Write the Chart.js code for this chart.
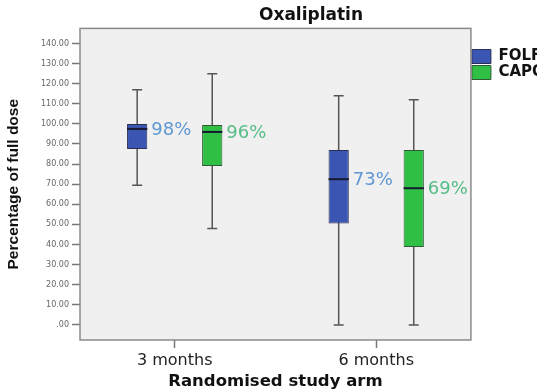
<!DOCTYPE html>
<html>
<head>
<meta charset="utf-8">
<script src="https://cdn.jsdelivr.net/npm/chart.js@4/dist/chart.umd.min.js"></script>
<style>
  body { margin: 0; background: #fff; }
  #wrap { width: 537px; height: 392px; overflow: hidden; }
</style>
</head>
<body>
<div id="wrap"><canvas id="chart" width="622" height="392"></canvas></div>
<script>
// values
const categories = ['3 months', '6 months'];
const seriesNames = ['FOLFOX', 'CAPOX'];
const yTicks = [0, 10, 20, 30, 40, 50, 60, 70, 80, 90, 100, 110, 120, 130, 140];

const folfoxMin = [69.5, 0];
const folfoxQ1 = [87.5, 50.5];
const folfoxMedian = [97.5, 72.5];
const folfoxQ3 = [100, 87];
const folfoxMax = [117, 114];
const folfoxLabels = ['98%', '73%'];

const capoxMin = [48, 0];
const capoxQ1 = [79, 38.7];
const capoxMedian = [96, 68];
const capoxQ3 = [99.5, 87];
const capoxMax = [125, 112];
const capoxLabels = ['96%', '69%'];

// categories sit at x = 1, 2 on a linear axis (lets the outer margin be a bit narrower than half a step)
function boxData(q1, q3){
    return q1.map((v, i) => ({ x: i + 1, y: [v, q3[i]] }));
}

// the legend runs off the right edge in the picture; pad it so the plot keeps its width
function legendLabels(chart){
    return Chart.defaults.plugins.legend.labels.generateLabels(chart).map(l => {
        l.text = l.text + '\u00a0'.repeat(9);
        return l;
    });
}

const boxParts = {
    id: 'boxParts',
    beforeDraw(chart){
        const a = chart.chartArea, ctx = chart.ctx;
        ctx.save();
        ctx.fillStyle = '#f0f0f0';
        ctx.fillRect(a.left, a.top, a.right - a.left, a.bottom - a.top);
        ctx.restore();
    },
    beforeDatasetsDraw(chart){
        const ctx = chart.ctx, y = chart.scales.y;
        ctx.save();
        ctx.strokeStyle = '#555';
        ctx.lineWidth = 1.5;
        chart.data.datasets.forEach((ds, di) => {
            const meta = chart.getDatasetMeta(di);
            meta.data.forEach((bar, i) => {
                const x = bar.x;
                const top = y.getPixelForValue(ds.stats.max[i]);
                const bot = y.getPixelForValue(ds.stats.min[i]);
                ctx.beginPath();
                ctx.moveTo(x, top); ctx.lineTo(x, bot);
                ctx.moveTo(x - 5, top); ctx.lineTo(x + 5, top);
                ctx.moveTo(x - 5, bot); ctx.lineTo(x + 5, bot);
                ctx.stroke();
            });
        });
        ctx.restore();
    },
    afterDatasetsDraw(chart){
        const ctx = chart.ctx, y = chart.scales.y;
        ctx.save();
        chart.data.datasets.forEach((ds, di) => {
            const meta = chart.getDatasetMeta(di);
            meta.data.forEach((bar, i) => {
                const half = bar.width / 2;
                const my = y.getPixelForValue(ds.stats.median[i]);
                ctx.strokeStyle = '#151a30';
                ctx.lineWidth = 2;
                ctx.beginPath();
                ctx.moveTo(bar.x - half, my); ctx.lineTo(bar.x + half, my);
                ctx.stroke();
                ctx.fillStyle = ds.stats.labelColor;
                ctx.font = '18px "DejaVu Sans"';
                ctx.textAlign = 'left';
                ctx.textBaseline = 'middle';
                ctx.fillText(ds.stats.labels[i], bar.x + half + 4, my + 1);
            });
        });
        ctx.restore();
    },
    afterDraw(chart){
        const a = chart.chartArea, ctx = chart.ctx;
        ctx.save();
        ctx.strokeStyle = '#8a8a8a';
        ctx.lineWidth = 1.5;
        ctx.strokeRect(a.left, a.top, a.right - a.left, a.bottom - a.top);
        ctx.restore();
    }
};

const chart = new Chart(document.getElementById('chart'), {
    type: 'bar',
    data: {
        datasets: [{
            label: seriesNames[0],
            data: boxData(folfoxQ1, folfoxQ3),
            backgroundColor: '#3b55b2',
            borderColor: '#2a2f55',
            borderWidth: 1,
            borderSkipped: false,
            stats: { min: folfoxMin, median: folfoxMedian, max: folfoxMax, labels: folfoxLabels, labelColor: '#5f97d2' }
        }, {
            label: seriesNames[1],
            data: boxData(capoxQ1, capoxQ3),
            backgroundColor: '#2fbf45',
            borderColor: '#2f5a35',
            borderWidth: 1,
            borderSkipped: false,
            stats: { min: capoxMin, median: capoxMedian, max: capoxMax, labels: capoxLabels, labelColor: '#55bd86' }
        }]
    },
    options: {
        responsive: false,
        animation: false,
        categoryPercentage: 0.745,
        barPercentage: 0.27,
        plugins: {
            tooltip: { enabled: false },
            title: {
                display: true,
                text: 'Oxaliplatin',
                color: '#111',
                font: { family: 'DejaVu Sans', size: 17, weight: 'bold', lineHeight: 1.2 },
                padding: { top: 5, bottom: 3 }
            },
            legend: {
                position: 'right',
                align: 'start',
                title: { display: true, text: ' ', font: { size: 10, lineHeight: 1 }, padding: { top: 38, bottom: 0 } },
                labels: {
                    boxWidth: 19,
                    boxHeight: 14,
                    padding: 1,
                    color: '#111',
                    font: { family: 'DejaVu Sans', size: 15, weight: 'bold' },
                    generateLabels: legendLabels
                }
            }
        },
        scales: {
            x: {
                type: 'linear',
                min: 0.53,
                max: 2.47,
                offset: false,
                afterFit: (s) => { s.height = 52; },
                afterBuildTicks: (s) => { s.ticks = categories.map((c, i) => ({ value: i + 1 })); },
                grid: { drawOnChartArea: false, offset: false, tickLength: 8, color: '#777', tickWidth: 1.5 },
                border: { display: false },
                ticks: {
                    color: '#222',
                    padding: 3,
                    font: { family: 'DejaVu Sans', size: 16 },
                    callback: (v) => categories[v - 1]
                },
                title: {
                    display: true,
                    text: 'Randomised study arm',
                    color: '#111',
                    font: { family: 'DejaVu Sans', size: 16.5, weight: 'bold' },
                    padding: { top: 0, bottom: 0 }
                }
            },
            y: {
                min: -7.5,
                max: 147.5,
                afterFit: (s) => { s.width = 80; },
                afterBuildTicks: (s) => { s.ticks = yTicks.map(v => ({ value: v })); },
                grid: { drawOnChartArea: false, tickLength: 8, color: '#777', tickWidth: 1.5 },
                border: { display: false },
                ticks: {
                    color: '#666',
                    padding: 3,
                    font: { family: 'DejaVu Sans', size: 8 },
                    callback: (v) => v === 0 ? '.00' : v.toFixed(2)
                },
                title: {
                    display: true,
                    text: 'Percentage of full dose',
                    color: '#111',
                    font: { family: 'Liberation Sans', size: 15.5, weight: 'bold' },
                    padding: { top: 4, bottom: 0 }
                }
            }
        }
    },
    plugins: [boxParts]
});
</script>
</body>
</html>
